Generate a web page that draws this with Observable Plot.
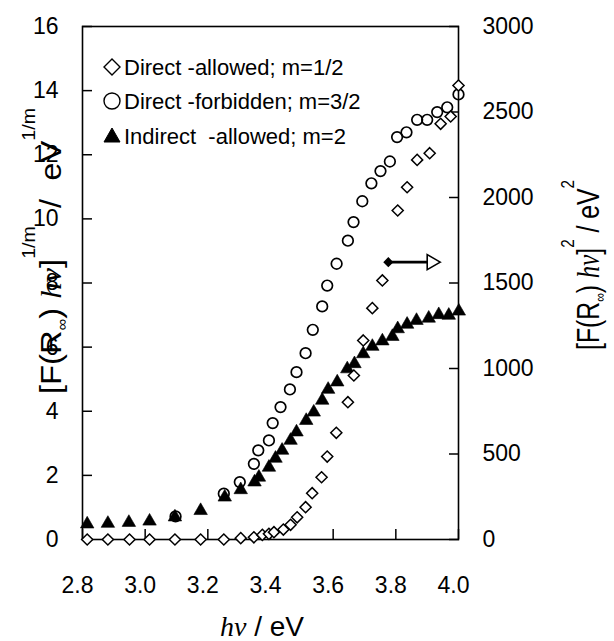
<!DOCTYPE html>
<html>
<head>
<meta charset="utf-8">
<script src="https://cdn.jsdelivr.net/npm/d3@7"></script>
<script src="https://cdn.jsdelivr.net/npm/@observablehq/plot@0.6"></script>
<style>
  html, body { margin: 0; padding: 0; background: #fff; }
  #chart { position: relative; width: 614px; height: 641px; }
  text { white-space: pre; }
</style>
</head>
<body>
<div id="chart"></div>
<script>
// ---------- data ----------
// Direct-allowed (m = 1/2): values on the right axis, [F(R∞)hν]^2 / eV^2
const allowedX = [2.815, 2.881, 2.950, 3.014, 3.095, 3.177, 3.251, 3.305, 3.347, 3.374, 3.395, 3.411, 3.441, 3.464, 3.485, 3.512, 3.533, 3.563, 3.581, 3.610, 3.647, 3.666, 3.696, 3.725, 3.757, 3.806, 3.836, 3.868, 3.908, 3.943, 3.975, 4.000];
const allowedY = [0, 0, 0, 0, 0, 0, 0, 8, 13, 27, 33, 43, 58, 86, 130, 189, 271, 364, 485, 624, 803, 959, 1164, 1353, 1515, 1924, 2060, 2220, 2259, 2431, 2474, 2655];

// Direct-forbidden (m = 3/2): left axis
const forbiddenX = [3.097, 3.251, 3.302, 3.347, 3.361, 3.395, 3.407, 3.432, 3.462, 3.483, 3.512, 3.535, 3.565, 3.581, 3.611, 3.647, 3.665, 3.693, 3.722, 3.751, 3.781, 3.804, 3.834, 3.868, 3.900, 3.932, 3.964, 4.000];
const forbiddenY = [0.72, 1.43, 1.79, 2.36, 2.78, 3.09, 3.63, 4.13, 4.68, 5.22, 5.81, 6.54, 7.27, 7.92, 8.60, 9.32, 9.90, 10.55, 11.11, 11.49, 11.79, 12.55, 12.70, 13.09, 13.09, 13.33, 13.48, 13.88];

// Indirect-allowed (m = 2): left axis
const indirectX = [2.815, 2.881, 2.948, 3.014, 3.095, 3.177, 3.254, 3.305, 3.349, 3.363, 3.395, 3.416, 3.437, 3.464, 3.483, 3.514, 3.538, 3.565, 3.584, 3.613, 3.645, 3.668, 3.696, 3.725, 3.757, 3.789, 3.806, 3.836, 3.866, 3.905, 3.937, 3.969, 4.001];
const indirectY = [0.48, 0.50, 0.53, 0.57, 0.70, 0.90, 1.32, 1.55, 1.79, 1.94, 2.25, 2.53, 2.78, 3.09, 3.35, 3.71, 3.97, 4.34, 4.68, 4.91, 5.32, 5.48, 5.79, 6.02, 6.19, 6.33, 6.57, 6.71, 6.83, 6.90, 7.01, 6.99, 7.12];

const leftTicks = [0, 2, 4, 6, 8, 10, 12, 14, 16];
const rightTicks = [0, 500, 1000, 1500, 2000, 2500, 3000];
const xTicks = [2.8, 3.0, 3.2, 3.4, 3.6, 3.8, 4.0];

const legendLabels = ["Direct -allowed; m=1/2", "Direct -forbidden; m=3/2", "Indirect  -allowed; m=2"];
const legendSymbols = ["diamond", "circle", "triangle"];

// arrow pointing to the right axis (right-axis units)
const arrowAnno = [{x1: 3.776, x2: 3.905, head: 3.914, y: 1622}];

// ---------- build ----------
const RATIO = 3000 / 16; // right-axis units per left-axis unit
const allowed = allowedX.map((x, i) => ({x, y: allowedY[i] / RATIO}));
const forbidden = forbiddenX.map((x, i) => ({x, y: forbiddenY[i]}));
const indirect = indirectX.map((x, i) => ({x, y: indirectY[i]}));
const arrows = arrowAnno.map(d => ({...d, yl: d.y / RATIO}));

const W = 614, H = 641;
const ml = 82, mr = 156, mt = 26, mb = 102;
const sans = "'Liberation Sans', Arial, Helvetica, sans-serif";

const chart = Plot.plot({
  width: W, height: H,
  marginLeft: ml, marginRight: mr, marginTop: mt, marginBottom: mb,
  style: {fontFamily: sans, fontSize: "23px", background: "white", color: "black", overflow: "visible"},
  x: {domain: [2.8, 4.0], label: null},
  y: {domain: [0, 16], label: null},
  marks: [
    // left axis: labels outside, ticks inside
    Plot.axisY({ticks: leftTicks, anchor: "left", tickSize: 0, tickPadding: 24, label: null, fontSize: 23}),
    Plot.axisY({ticks: leftTicks, anchor: "left", tickSize: 10, dx: 10, fill: "none", label: null, strokeWidth: 1.5}),
    // right axis
    Plot.axisY({ticks: rightTicks.map(v => v / RATIO), anchor: "right", tickSize: 0, tickPadding: 24,
                tickFormat: d => String(Math.round(d * RATIO)), label: null, fontSize: 23}),
    Plot.axisY({ticks: rightTicks.map(v => v / RATIO), anchor: "right", tickSize: 10, dx: -10, fill: "none", label: null, strokeWidth: 1.5}),
    // bottom axis
    Plot.axisX({ticks: xTicks, anchor: "bottom", tickSize: 0, tickPadding: 37, dx: -5,
                tickFormat: d3.format(".1f"), label: null, fontSize: 23}),
    Plot.axisX({ticks: xTicks, anchor: "bottom", tickSize: 10, dy: -10, fill: "none", label: null, strokeWidth: 1.5}),
    Plot.frame({stroke: "black", strokeWidth: 1.6}),
    // data
    Plot.dot(indirect, {x: "x", y: "y", symbol: "triangle", r: 5, fill: "black", stroke: "black", strokeWidth: 0.6}),
    Plot.dot(forbidden, {x: "x", y: "y", symbol: "circle", r: 5.3, fill: "none", stroke: "black", strokeWidth: 1.7}),
    Plot.dot(allowed, {x: "x", y: "y", symbol: "diamond2", r: 5, fill: "white", stroke: "black", strokeWidth: 1.5}),
    // arrow annotation
    Plot.link(arrows, {x1: "x1", x2: "x2", y1: "yl", y2: "yl", stroke: "black", strokeWidth: 2.6}),
    Plot.dot(arrows, {x: "x1", y: "yl", symbol: "diamond2", r: 3.6, fill: "black", stroke: "black"}),
    Plot.dot(arrows, {x: "head", y: "yl", symbol: "triangle", rotate: 90, r: 5.6, fill: "white", stroke: "black", strokeWidth: 1.6})
  ]
});

document.getElementById("chart").appendChild(chart);

// ---------- legend & axis titles (added into the same SVG) ----------
const svg = d3.select(chart);
const serif = "'Liberation Serif', 'Times New Roman', serif";

const leg = svg.append("g").attr("font-family", sans).attr("font-size", 22).attr("text-anchor", "start");
const rowY = [67, 101, 136];
legendLabels.forEach((lab, i) => {
  const cy = rowY[i], cx = 112;
  const g = leg.append("g");
  if (legendSymbols[i] === "diamond") {
    g.append("path").attr("d", `M${cx},${cy - 8}L${cx + 8},${cy}L${cx},${cy + 8}L${cx - 8},${cy}Z`)
      .attr("fill", "white").attr("stroke", "black").attr("stroke-width", 1.4);
  } else if (legendSymbols[i] === "circle") {
    g.append("circle").attr("cx", cx).attr("cy", cy).attr("r", 8)
      .attr("fill", "white").attr("stroke", "black").attr("stroke-width", 1.4);
  } else {
    g.append("path").attr("d", `M${cx},${cy - 8}L${cx + 8},${cy + 6}L${cx - 8},${cy + 6}Z`)
      .attr("fill", "black").attr("stroke", "black");
  }
  g.append("text").attr("x", 124).attr("y", cy).attr("dy", "0.36em").attr("fill", "black")
    .attr("text-anchor", "start").text(lab);
});

// x title
const xt = svg.append("text").attr("x", 220).attr("y", 636).attr("font-size", 28)
  .attr("fill", "black").attr("text-anchor", "start");
xt.append("tspan").attr("font-family", serif).attr("font-style", "italic").text("hν");
xt.append("tspan").attr("font-family", sans).text(" / eV");

// left title (condensed to its span in the reference)
const lt = svg.append("text").attr("transform", "translate(61,394) rotate(-90)")
  .attr("font-family", sans).attr("font-size", 30).attr("fill", "black").attr("text-anchor", "start")
  .attr("textLength", 286).attr("lengthAdjust", "spacingAndGlyphs");
lt.append("tspan").text("[F(R");
lt.append("tspan").attr("font-size", 15).attr("dy", 6).text("∞");
lt.append("tspan").attr("dy", -6).text(") ");
lt.append("tspan").attr("font-family", serif).attr("font-style", "italic").text("hν");
lt.append("tspan").text("]");
lt.append("tspan").attr("font-size", 18).attr("dy", -26).text("1/m");
lt.append("tspan").attr("dy", 26).text("  /  eV");
lt.append("tspan").attr("font-size", 18).attr("dy", -26).text("1/m");

// right title
const rt = svg.append("text").attr("transform", "translate(599,350) rotate(-90)")
  .attr("font-family", sans).attr("font-size", 31).attr("fill", "black").attr("text-anchor", "start")
  .attr("textLength", 170).attr("lengthAdjust", "spacingAndGlyphs");
rt.append("tspan").text("[F(R");
rt.append("tspan").attr("font-size", 15).attr("dy", 6).text("∞");
rt.append("tspan").attr("dy", -6).text(") ");
rt.append("tspan").attr("font-family", serif).attr("font-style", "italic").text("hν");
rt.append("tspan").text("]");
rt.append("tspan").attr("font-size", 19).attr("dy", -25).text("2");
rt.append("tspan").attr("dy", 25).text(" / eV");
rt.append("tspan").attr("font-size", 19).attr("dy", -25).text("2");
</script>
</body>
</html>
